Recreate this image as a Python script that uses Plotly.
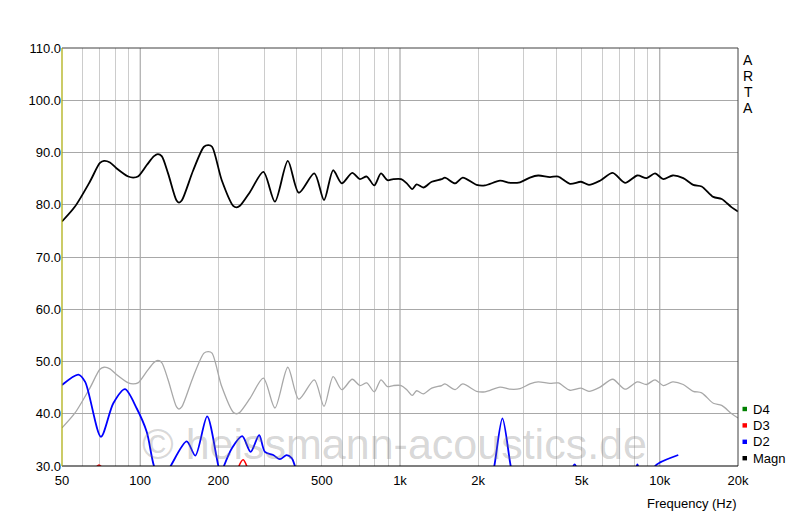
import math
import plotly.graph_objects as go

# ---- data ----
freq_magn = [50, 56, 64, 70, 72.6, 76.5, 81, 90, 94, 98,
             106, 113, 117, 121, 128, 138, 141, 144.5, 160, 176,
             183, 189, 206, 228, 235, 242, 265, 298, 330, 370,
             408, 468, 510, 553, 597, 655, 701, 745, 796, 845,
             894, 942, 1010, 1062, 1115, 1159, 1230, 1325, 1447, 1489,
             1630, 1743, 1972, 2123, 2426, 2650, 2897, 3163, 3404, 3776,
             4066, 4511, 4977, 5337, 5888, 6588, 7350, 8195, 8898, 9587,
             10316, 11212, 12310, 13450, 14490, 16070, 17310, 18920, 20000]
magn_db = [76.8, 79.6, 84.4, 88.0, 88.4, 88.1, 87.0, 85.4, 85.2, 85.4,
           87.6, 89.3, 89.7, 89.3, 86.0, 80.8, 80.4, 80.8, 86.6, 91.1,
           91.4, 91.1, 84.7, 79.8, 79.5, 79.8, 82.5, 86.3, 80.6, 88.4,
           82.3, 86.0, 80.9, 86.6, 84.1, 86.1, 84.9, 85.4, 83.7, 86.0,
           84.7, 84.9, 84.9, 84.1, 83.0, 83.9, 83.3, 84.4, 84.9, 85.2,
           84.1, 85.2, 83.8, 83.7, 84.6, 84.2, 84.3, 85.2, 85.6, 85.3,
           85.4, 84.0, 84.4, 83.8, 84.6, 86.1, 84.2, 85.6, 85.1, 86.0,
           84.9, 85.6, 85.1, 83.8, 83.5, 81.5, 81.1, 79.5, 78.7]
ref_db = [37.3, 40.1, 44.9, 48.5, 48.9, 48.6, 47.5, 45.9, 45.7, 45.9,
          48.1, 49.8, 50.2, 49.8, 46.5, 41.3, 40.9, 41.3, 47.1, 51.6,
          51.9, 51.6, 45.2, 40.3, 40.0, 40.3, 43.0, 46.8, 41.1, 48.9,
          42.8, 46.5, 41.4, 47.1, 44.6, 46.6, 45.4, 45.9, 44.2, 46.5,
          45.2, 45.4, 45.4, 44.6, 43.5, 44.4, 43.8, 44.9, 45.4, 45.7,
          44.6, 45.7, 44.3, 44.2, 45.1, 44.7, 44.8, 45.7, 46.1, 45.8,
          45.9, 44.5, 44.9, 44.3, 45.1, 46.6, 44.7, 46.1, 45.6, 46.5,
          45.4, 46.1, 45.6, 44.3, 44.0, 42.0, 41.6, 40.0, 39.2]

freq_d2 = [50, 57.8, 61.4, 70.6, 78.8, 87.4, 97, 106, 113, 121, 131, 151, 163, 181,
           200, 205, 210, 226, 247, 266, 287, 302, 325, 345, 366, 383, 394, 420,
           None, 2200, 2307, 2479, 2667, 2800,
           None, 4600, 4700, 4800,
           None, 8100, 8200, 8300,
           None, 9400, 9600, 10030, 11780]
d2_db = [45.5, 47.5, 46.1, 35.6, 42.0, 44.7, 41.0, 36.5, 30.0, 27.0, 30.0, 34.7, 32.0, 39.5,
         30.0, 28.5, 30.0, 33.5, 35.7, 32.7, 35.9, 32.7, 32.1, 31.3, 32.1, 31.5, 30.0, 25.0,
         None, 25.0, 30.0, 39.1, 30.0, 25.0,
         None, 29.5, 30.3, 29.5,
         None, 29.5, 30.3, 29.5,
         None, 28.0, 30.0, 30.7, 32.1]

freq_d3 = [66, 69.4, 73, None, 235, 240, 249, 257, 262]
d3_db = [29.0, 30.2, 29.0, None, 28.0, 30.0, 31.2, 30.0, 28.0]

x_tick_vals = [50, 100, 200, 500, 1000, 2000, 5000, 10000, 20000]
x_tick_text = ["50", "100", "200", "500", "1k", "2k", "5k", "10k", "20k"]
x_minor_vals = [60, 70, 80, 90, 200, 300, 400, 500, 600, 700, 800, 900,
                2000, 3000, 4000, 5000, 6000, 7000, 8000, 9000]
x_major_grid = [100, 1000, 10000]
y_tick_vals = [30, 40, 50, 60, 70, 80, 90, 100, 110]

legend_items = [("D4", "#008000"), ("D3", "#ff0000"), ("D2", "#0000ff"), ("Magn", "#000000")]

FONT = "Liberation Sans, Arial, sans-serif"
W, H = 800, 532
L, R, T, B = 62, 62, 48, 66
PW, PH = W - L - R, H - T - B

def px(xp):
    return (xp - L) / PW

def py(yp):
    return (H - B - yp) / PH

fig = go.Figure()
fig.add_trace(go.Scatter(x=freq_magn, y=ref_db, mode="lines",
                         line=dict(color="#a8a8a8", width=1.3, shape="spline", smoothing=0.8),
                         hoverinfo="skip"))
fig.add_trace(go.Scatter(x=freq_d3, y=d3_db, mode="lines",
                         line=dict(color="#ff0000", width=1.6, shape="spline", smoothing=0.8),
                         hoverinfo="skip"))
fig.add_trace(go.Scatter(x=freq_d2, y=d2_db, mode="lines",
                         line=dict(color="#0000ff", width=1.8, shape="spline", smoothing=0.8),
                         hoverinfo="skip"))
fig.add_trace(go.Scatter(x=freq_magn, y=magn_db, mode="lines",
                         line=dict(color="#000000", width=1.8, shape="spline", smoothing=0.8),
                         hoverinfo="skip"))

shapes = []
for v in x_major_grid:
    shapes.append(dict(type="line", xref="x", yref="paper", x0=v, x1=v, y0=0, y1=1,
                       line=dict(color="#989898", width=1), layer="below"))
# frame
shapes.append(dict(type="line", xref="paper", yref="paper", x0=0, x1=1, y0=1, y1=1,
                   line=dict(color="#404040", width=1)))
shapes.append(dict(type="line", xref="paper", yref="paper", x0=1, x1=1, y0=0, y1=1,
                   line=dict(color="#404040", width=1)))
shapes.append(dict(type="line", xref="paper", yref="paper", x0=0, x1=1, y0=0, y1=0,
                   line=dict(color="#000000", width=1.2)))
shapes.append(dict(type="line", xref="paper", yref="paper", x0=0, x1=0, y0=0, y1=1,
                   line=dict(color="#a8a800", width=1.2)))

annotations = []
# watermark
annotations.append(dict(text="© heissmann-acoustics.de", xref="paper", yref="paper",
                        x=px(394), y=py(444), xanchor="center", yanchor="middle",
                        showarrow=False, font=dict(family=FONT, size=43, color="rgba(120,120,120,0.30)")))
# ARTA
for i, ch in enumerate("ARTA"):
    annotations.append(dict(text=ch, xref="paper", yref="paper", x=px(748), y=py(60 + 16 * i),
                            xanchor="center", yanchor="middle", showarrow=False,
                            font=dict(family=FONT, size=14, color="#000")))
# legend
for i, (name, col) in enumerate(legend_items):
    yc = 409 + 16.4 * i
    shapes.append(dict(type="rect", xref="paper", yref="paper",
                       x0=px(742.5), x1=px(747), y0=py(yc + 2.2), y1=py(yc - 2.2),
                       fillcolor=col, line=dict(width=0)))
    annotations.append(dict(text=name, xref="paper", yref="paper", x=px(751), y=py(yc),
                            xanchor="left", yanchor="middle", showarrow=False,
                            font=dict(family=FONT, size=13, color="#000")))
annotations.append(dict(text="Frequency (Hz)", xref="paper", yref="paper", x=px(739), y=py(504),
                        xanchor="right", yanchor="middle", showarrow=False,
                        font=dict(family=FONT, size=13, color="#000")))

fig.update_layout(
    width=W, height=H,
    margin=dict(l=L, r=R, t=T, b=B, autoexpand=False),
    paper_bgcolor="#ffffff", plot_bgcolor="#ffffff",
    showlegend=False,
    shapes=shapes, annotations=annotations,
    font=dict(family=FONT, size=13, color="#000"),
    xaxis=dict(type="log", range=[math.log10(50), math.log10(20000)],
               tickmode="array", tickvals=x_tick_vals, ticktext=x_tick_text,
               showgrid=False, zeroline=False, showline=False, ticks="",
               ticklabelstandoff=5,
               tickfont=dict(family=FONT, size=13, color="#000"),
               minor=dict(tickmode="array", tickvals=x_minor_vals, showgrid=True,
                          gridcolor="#cccccc", gridwidth=1, ticks="")),
    yaxis=dict(range=[30, 110], tickmode="array", tickvals=y_tick_vals,
               tickformat=".1f", showgrid=True, gridcolor="#a8a8a8", gridwidth=1,
               zeroline=False, showline=False, ticks="",
               tickfont=dict(family=FONT, size=13, color="#000")),
)

fig.write_html("out.html", config={"displayModeBar": False},
               post_script="document.body.style.margin='0px';document.body.style.overflow='hidden';")
